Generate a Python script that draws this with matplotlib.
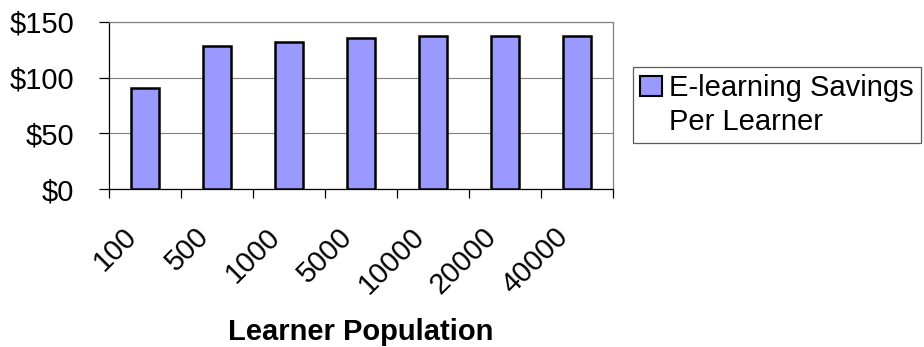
import numpy as np
import matplotlib
matplotlib.use("Agg")
import matplotlib.pyplot as plt
from matplotlib.patches import Patch
from matplotlib.ticker import FixedLocator, FuncFormatter
from matplotlib.transforms import ScaledTranslation

plt.rcParams['font.family'] = ['Liberation Sans', 'DejaVu Sans']

# savings per learner for each population size
poblaciones = ['100', '500', '1000', '5000', '10000', '20000', '40000']
ahorros = [91, 128, 132, 135, 137, 137, 137]
ticks_y = [0, 50, 100, 150]
leyenda = ['E-learning Savings', 'Per Learner']

FS = 21
color_barra = '#9999FF'
gris = '#808080'

fig = plt.figure(figsize=(9.24, 3.47), dpi=100)
ax = fig.add_axes([109 / 924, 1 - 189.3 / 347, 504 / 924, 167.6 / 347])

x = np.arange(len(poblaciones))
barras = ax.bar(x, ahorros, width=0.38, color=color_barra, edgecolor='black',
                linewidth=1.8, zorder=3)

ax.set_xlim(-0.5, len(poblaciones) - 0.5)
ax.set_ylim(0, 150)

# grid + frame
ax.yaxis.grid(True, color=gris, linewidth=0.8, zorder=0)
ax.set_axisbelow(True)
ax.spines['left'].set_color('black')
ax.spines['bottom'].set_color('black')
ax.spines['top'].set_color(gris)
ax.spines['right'].set_color(gris)
for s in ax.spines.values():
    s.set_linewidth(0.9)

# y axis
ax.set_yticks(ticks_y)
ax.yaxis.set_major_formatter(FuncFormatter(lambda v, p: f'${v:.0f}'))
ax.tick_params(axis='y', length=7, width=0.9, pad=18, labelsize=FS, color='black')

# x axis: labels at centres, tick marks at category boundaries
ax.set_xticks(x)
ax.set_xticklabels(poblaciones, rotation=45, ha='right', va='center',
                   rotation_mode='anchor', fontsize=FS)
ax.xaxis.set_minor_locator(FixedLocator(np.arange(len(poblaciones) + 1) - 0.5))
ax.tick_params(axis='x', which='major', length=0, pad=31)
ax.tick_params(axis='x', which='minor', length=6.5, width=0.9, color='black')
desplazamiento = ScaledTranslation(-13 / 100, 0, fig.dpi_scale_trans)
for lbl in ax.get_xticklabels():
    lbl.set_transform(lbl.get_transform() + desplazamiento)

ax.set_xlabel('Learner Population', fontsize=FS, fontweight='bold')
ax.xaxis.set_label_coords(0.5, -0.765)

# legend: box on first line, second line of the label without a marker
caja = Patch(facecolor=color_barra, edgecolor='black', linewidth=1.5)
vacio = Patch(facecolor='none', edgecolor='none')
leg = fig.legend([caja, vacio], leyenda, loc='upper left',
                 bbox_to_anchor=(633 / 924, 1 - 67 / 347),
                 fontsize=FS, frameon=True, fancybox=False, shadow=False,
                 borderpad=0.25, borderaxespad=0, labelspacing=0.2,
                 handlelength=0.75, handleheight=0.65, handletextpad=0.25)
leg.get_frame().set_edgecolor('#333333')
leg.get_frame().set_linewidth(0.9)

fig.savefig('out.png', dpi=100)
